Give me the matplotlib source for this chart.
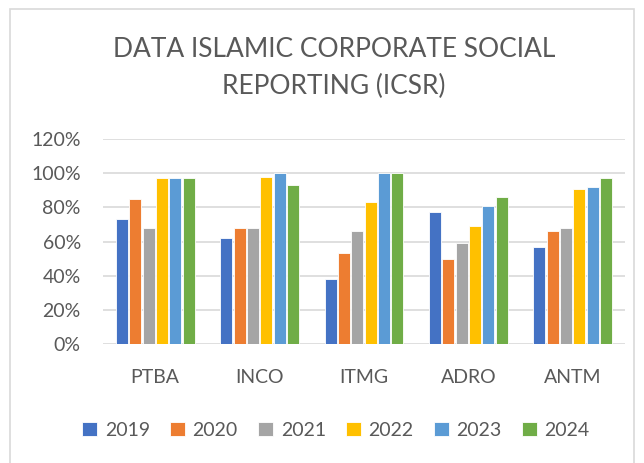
import matplotlib
matplotlib.use("Agg")
import matplotlib.pyplot as plt
import numpy as np
from matplotlib.patches import Rectangle

categories = ["PTBA", "INCO", "ITMG", "ADRO", "ANTM"]
years = ["2019", "2020", "2021", "2022", "2023", "2024"]
v2019 = [73, 62, 38, 77, 57]
v2020 = [85, 68, 53, 50, 66]
v2021 = [68, 68, 66, 59, 68]
v2022 = [97, 98, 83, 69, 91]
v2023 = [97, 100, 100, 81, 92]
v2024 = [97, 93, 100, 86, 97]
series = [v2019, v2020, v2021, v2022, v2023, v2024]
colors = ["#4472C4", "#ED7D31", "#A5A5A5", "#FFC000", "#5B9BD5", "#70AD47"]
yticks = [0, 20, 40, 60, 80, 100, 120]
ytick_labels = ["0%", "20%", "40%", "60%", "80%", "100%", "120%"]

plt.rcParams['font.family'] = ['Lato', 'DejaVu Sans']
W, H = 644, 463
fig = plt.figure(figsize=(W/100, H/100), dpi=100)
ax = fig.add_axes([103/W, 1-344/H, (625-103)/W, (344-139)/H])

x = np.arange(len(categories))
pitch = 0.128
bw = 0.115
for i, (vals, c) in enumerate(zip(series, colors)):
    ax.bar(x + (i - 2.5) * pitch, vals, width=bw, color=c, edgecolor="white",
           linewidth=0.6, label=years[i], zorder=3)

ax.set_xlim(-0.5, len(categories) - 0.5)
ax.set_ylim(0, 120)
ax.set_yticks(yticks)
ax.set_yticklabels(ytick_labels)
ax.set_xticks(x)
ax.set_xticklabels(categories)
ax.grid(axis="y", color="#D9D9D9", linewidth=1.2, zorder=0)
for s in ax.spines.values():
    s.set_visible(False)
ax.tick_params(axis="both", length=0, labelsize=14, colors="#595959")
ax.tick_params(axis="x", pad=18)
ax.tick_params(axis="y", pad=16)

fig.text(334/W, 1-68/H, "DATA ISLAMIC CORPORATE SOCIAL\nREPORTING (ICSR)",
         ha="center", va="center", fontsize=19, color="#595959", linespacing=1.6)

leg = fig.legend(loc="center", bbox_to_anchor=(336/W, 1-430/H), ncol=6, frameon=False,
                 fontsize=14, handlelength=0.75, handleheight=0.75, handletextpad=0.4,
                 columnspacing=1.05, labelcolor="#595959")

fig.patches.append(Rectangle((10/W, -0.05), (634-10)/W, 1-9/H+0.05, transform=fig.transFigure,
                             fill=False, edgecolor="#D9D9D9", linewidth=1.2))

fig.savefig("out.png", dpi=100, facecolor="white")
